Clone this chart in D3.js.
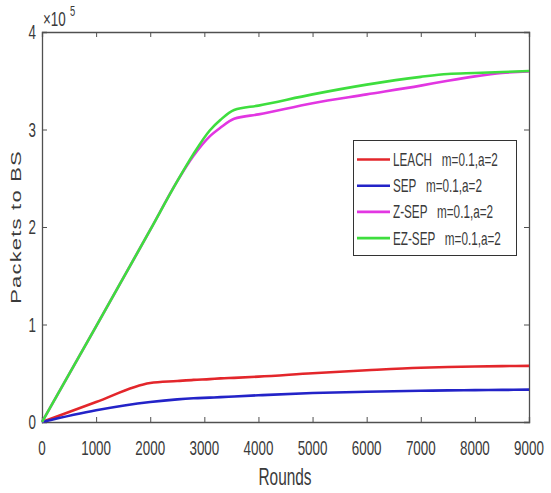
<!DOCTYPE html>
<html><head><meta charset="utf-8">
<script src="https://cdn.jsdelivr.net/npm/d3@7"></script>
<style>
body{margin:0;background:#fff;}
text{font-family:"Liberation Sans",Arial,sans-serif;white-space:pre;}
</style></head>
<body><svg id="c" width="551" height="493"></svg>
<script>
// data (values in units of 1e5 packets)
const rounds = [0, 1000, 2000, 2500, 2800, 3100, 3300, 3550, 4000, 5000, 6000, 7000, 7500, 8000, 8500, 9000];
const leach  = [0, 0.205, 0.40, 0.42, 0.432, 0.44, 0.447, 0.453, 0.465, 0.50, 0.53, 0.556, 0.564, 0.57, 0.573, 0.576];
const sep    = [0, 0.12, 0.205, 0.232, 0.243, 0.25, 0.255, 0.262, 0.274, 0.297, 0.31, 0.32, 0.324, 0.327, 0.329, 0.332];
const zsep   = [0, 0.98, 1.97, 2.47, 2.73, 2.93, 3.02, 3.11, 3.155, 3.27, 3.36, 3.45, 3.50, 3.545, 3.58, 3.595];
const ezsep  = [0, 0.98, 1.97, 2.47, 2.75, 2.99, 3.10, 3.20, 3.245, 3.36, 3.46, 3.54, 3.57, 3.58, 3.59, 3.60];
const seriesNames = ["LEACH   m=0.1,a=2", "SEP   m=0.1,a=2", "Z-SEP   m=0.1,a=2", "EZ-SEP   m=0.1,a=2"];
const seriesColors = ["#e3262b", "#2323c8", "#e236e2", "#3ede3e"];
const xTicks = [0,1000,2000,3000,4000,5000,6000,7000,8000,9000];
const yTicks = [0,1,2,3,4];

const svg = d3.select("#c");
const L=42, T=32, R=529, B=422;
const x = d3.scaleLinear().domain([0,9000]).range([L,R]);
const y = d3.scaleLinear().domain([0,4]).range([B,T]);
const axisCol = "#505050", textCol = "#3a3a3a";
const SX = 0.67;

function ctext(g, tx, ty, str, size, anchor){
  return g.append("text").attr("transform",`translate(${tx},${ty}) scale(${SX},1)`)
    .attr("text-anchor",anchor||"middle").attr("font-size",size).attr("fill",textCol).text(str);
}

// axes
const gx = svg.append("g").attr("transform",`translate(0,${B})`)
  .call(d3.axisBottom(x).tickValues(xTicks).tickSize(-5).tickFormat(""));
const gxt = svg.append("g").attr("transform",`translate(0,${T})`)
  .call(d3.axisTop(x).tickValues(xTicks).tickSize(-5).tickFormat(""));
const gy = svg.append("g").attr("transform",`translate(${L},0)`)
  .call(d3.axisLeft(y).tickValues(yTicks).tickSize(-5).tickFormat(""));
const gyr = svg.append("g").attr("transform",`translate(${R},0)`)
  .call(d3.axisRight(y).tickValues(yTicks).tickSize(-5).tickFormat(""));
[gx,gxt,gy,gyr].forEach(g=>{
  g.selectAll("path").attr("stroke",axisCol).attr("stroke-width",1.3);
  g.selectAll("line").attr("stroke",axisCol).attr("stroke-width",1);
});

// tick labels
xTicks.forEach(v=>ctext(svg, x(v), 455, String(v), 20));
yTicks.forEach(v=>ctext(svg, L-6, y(v)+7, String(v), 20, "end"));

// exponent
ctext(svg, 43, 26, "×10", 20, "start");
ctext(svg, 70, 16, "5", 14, "start");

// axis titles
ctext(svg, 285, 485, "Rounds", 23);
svg.append("text").attr("transform",`translate(21,227) rotate(-90) scale(1,${SX})`)
  .attr("text-anchor","middle").attr("font-size",22).attr("letter-spacing",1.2)
  .attr("fill",textCol).text("Packets to BS");

// lines
const allSeries = [leach, sep, zsep, ezsep];
const line = d3.line().x((d,i)=>x(rounds[i])).y(d=>y(d)).curve(d3.curveMonotoneX);
allSeries.forEach((s,k)=>{
  svg.append("path").datum(s).attr("d",line).attr("fill","none")
    .attr("stroke",seriesColors[k]).attr("stroke-width",2.6).attr("stroke-linejoin","round");
});

// legend
const lg = svg.append("g");
lg.append("rect").attr("x",353.5).attr("y",140.5).attr("width",163).attr("height",115)
  .attr("fill","#fff").attr("stroke","#333").attr("stroke-width",1);
seriesNames.forEach((n,k)=>{
  const cy = 159.5 + k*26.2;
  lg.append("line").attr("x1",357).attr("x2",390).attr("y1",cy).attr("y2",cy)
    .attr("stroke",seriesColors[k]).attr("stroke-width",2.6);
  ctext(lg, 393, cy+6.5, n, 17.5, "start");
});
</script></body></html>
